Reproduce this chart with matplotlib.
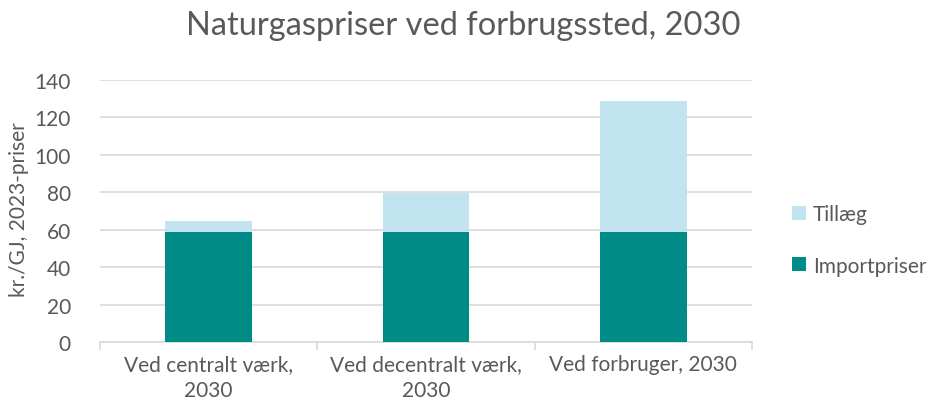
import matplotlib
matplotlib.use("Agg")
import matplotlib.pyplot as plt
import numpy as np

categories = ["Ved centralt værk,\n2030", "Ved decentralt værk,\n2030", "Ved forbruger, 2030"]
importpriser = [58.6, 58.6, 58.6]
tillaeg = [5.9, 21.0, 70.0]
yticks = [0, 20, 40, 60, 80, 100, 120, 140]

plt.rcParams['font.family'] = ['Lato', 'DejaVu Sans']
TXT = '#595959'
C_IMP = '#008B87'
C_TIL = '#C1E4F0'

fig = plt.figure(figsize=(9.32, 4.10), dpi=100)
ax = fig.add_axes([100/932, 1-343/410, (752-100)/932, (343-81)/410])

x = np.arange(len(categories))
ax.bar(x, importpriser, width=0.4, color=C_IMP, label='Importpriser', zorder=3)
ax.bar(x, tillaeg, width=0.4, bottom=importpriser, color=C_TIL, label='Tillæg', zorder=3)

ax.set_xlim(-0.5, len(categories) - 0.5)
ax.set_ylim(0, 140)
ax.set_yticks(yticks)
ax.set_yticklabels([str(v) for v in yticks], fontsize=15, color=TXT)
ax.yaxis.grid(True, color='#D9D9D9', linewidth=1.2, zorder=0)
ax.tick_params(axis='y', length=0, pad=21)

ax.set_xticks(x)
ax.set_xticklabels(categories, fontsize=15, color=TXT, linespacing=1.35)
ax.tick_params(axis='x', length=0, pad=9)
ax.set_xticks(np.arange(-0.5, len(categories)), minor=True)
ax.tick_params(axis='x', which='minor', length=6, color='#D9D9D9', width=1.2)

for s in ['top', 'right', 'left']:
    ax.spines[s].set_visible(False)
ax.spines['bottom'].set_color('#D9D9D9')
ax.spines['bottom'].set_linewidth(1.2)

fig.text(19/932, 1-210/410, 'kr./GJ, 2023-priser', rotation=90, ha='center', va='center',
         fontsize=15, color=TXT)

fig.text(463/932, 1-26/410, 'Naturgaspriser ved forbrugssted, 2030', ha='center', va='center',
         fontsize=23.5, color=TXT)

handles, labels = ax.get_legend_handles_labels()
leg = fig.legend(handles[::-1], labels[::-1], loc='center left', bbox_to_anchor=(792/932, 1-241/410),
                 frameon=False, fontsize=15, labelcolor=TXT, handlelength=0.65, handleheight=0.65,
                 handletextpad=0.35, labelspacing=1.5, borderpad=0, borderaxespad=0)

fig.savefig('out.png', dpi=100)
